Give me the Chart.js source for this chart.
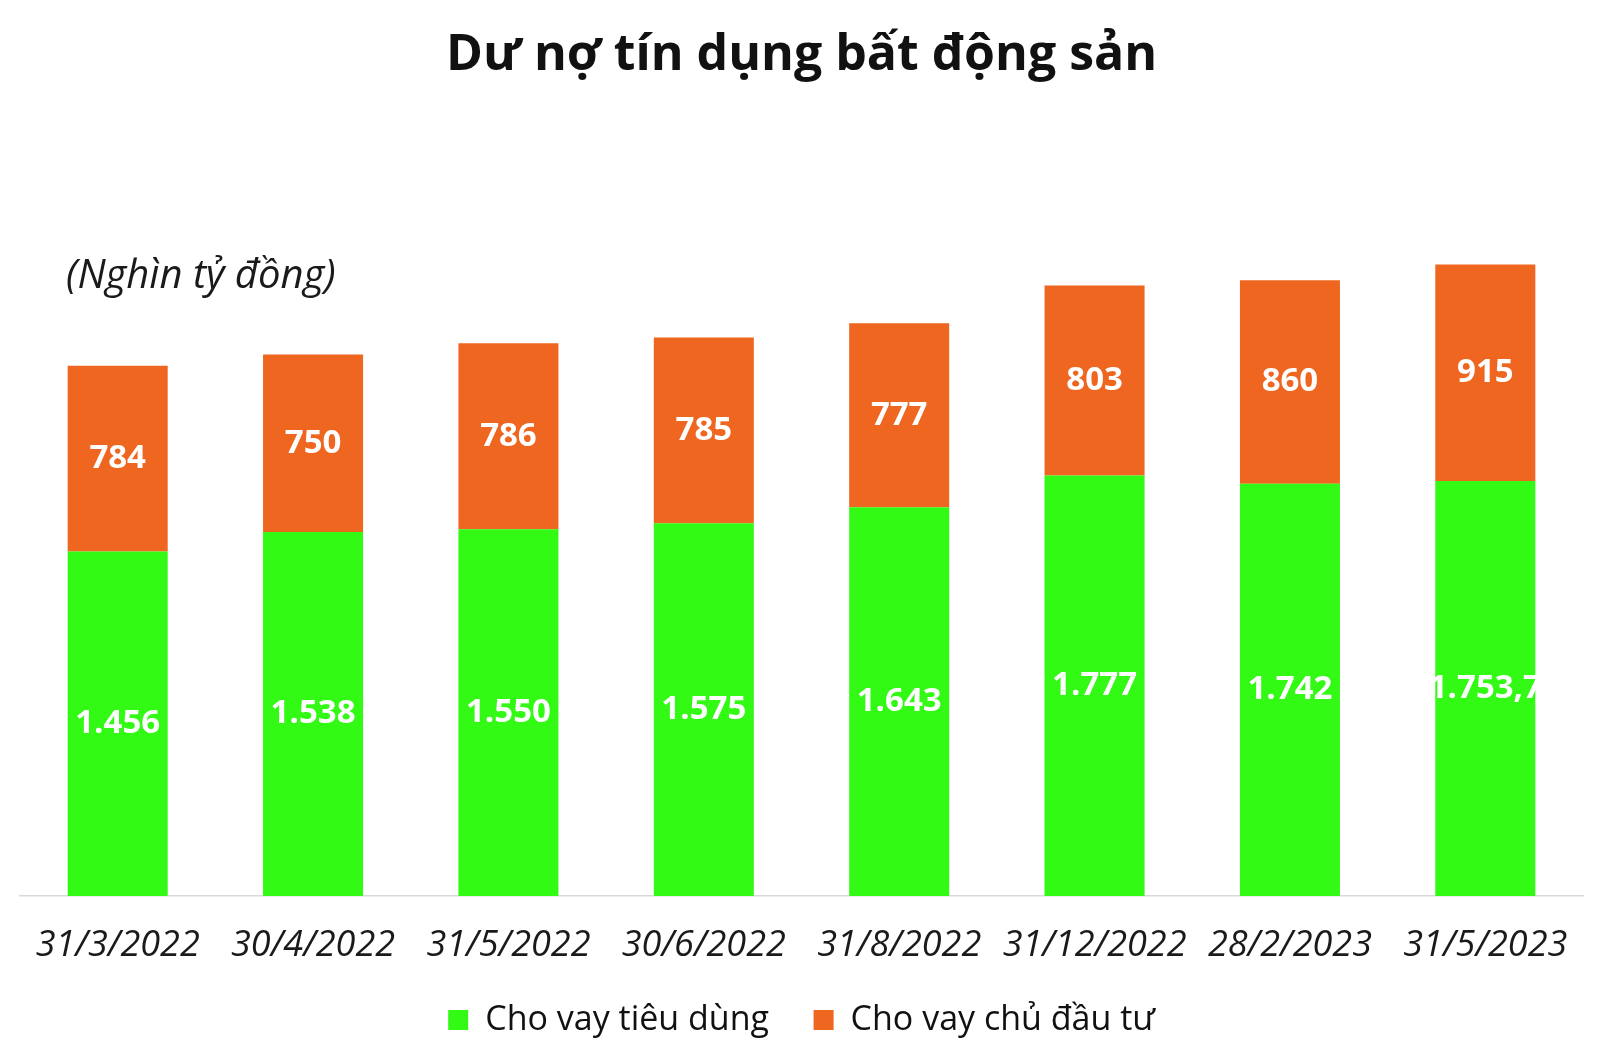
<!DOCTYPE html>
<html lang="vi">
<head>
<meta charset="utf-8">
<title>Dư nợ tín dụng bất động sản</title>
<script src="https://cdn.jsdelivr.net/npm/chart.js@4.4.1/dist/chart.umd.min.js"></script>
<style>
    html, body { margin: 0; padding: 0; background: #ffffff; }
    #wrap { width: 1600px; height: 1064px; position: relative; }
</style>
</head>
<body>
<div id="wrap"><canvas id="creditChart"></canvas></div>
<script>
const dates = ['31/3/2022', '30/4/2022', '31/5/2022', '30/6/2022', '31/8/2022', '31/12/2022', '28/2/2023', '31/5/2023'];
const consumerLoans = [1456, 1538, 1550, 1575, 1643, 1777, 1742, 1753.7];
const developerLoans = [784, 750, 786, 785, 777, 803, 860, 915];
const seriesNames = ['Cho vay tiêu dùng', 'Cho vay chủ đầu tư'];
const unitText = '(Nghìn tỷ đồng)';

// 1753.7 -> "1.753,7"
function fmtVN(v) {
    const parts = String(v).split('.');
    const intPart = parts[0].replace(/\B(?=(\d{3})+(?!\d))/g, '.');
    return parts[1] ? intPart + ',' + parts[1] : intPart;
}

const segmentLabels = {
    id: 'segmentLabels',
    afterDatasetsDraw(chart) {
        const ctx = chart.ctx;
        ctx.save();
        ctx.font = 'bold 33px "Open Sans"';
        ctx.fillStyle = '#ffffff';
        ctx.textAlign = 'center';
        ctx.textBaseline = 'middle';
        chart.data.datasets.forEach((ds, i) => {
            chart.getDatasetMeta(i).data.forEach((bar, j) => {
                ctx.fillText(fmtVN(ds.data[j]), bar.x, (bar.y + bar.base) / 2);
            });
        });
        ctx.restore();
    }
};

const unitLabel = {
    id: 'unitLabel',
    afterDraw(chart) {
        const ctx = chart.ctx;
        ctx.save();
        ctx.font = 'italic 40px "Open Sans"';
        ctx.fillStyle = '#1a1a1a';
        ctx.textAlign = 'left';
        ctx.textBaseline = 'middle';
        ctx.fillText(unitText, chart.chartArea.left + 46, chart.chartArea.top + 91);
        ctx.restore();
    }
};

const ctx = document.getElementById('creditChart').getContext('2d');
new Chart(ctx, {
    type: 'bar',
    data: {
        labels: dates,
        datasets: [
            {
                label: seriesNames[0],
                data: consumerLoans,
                backgroundColor: '#32fa14'
            },
            {
                label: seriesNames[1],
                data: developerLoans,
                backgroundColor: '#ee661f'
            }
        ]
    },
    options: {
        responsive: true,
        maintainAspectRatio: false,
        animation: false,
        barPercentage: 1,
        categoryPercentage: 0.512,
        layout: {
            padding: { left: 20, right: 17, top: 0, bottom: 17 }
        },
        scales: {
            x: {
                stacked: true,
                grid: { display: false, drawTicks: false },
                border: { display: true, color: '#d9d9d9', width: 1.5 },
                ticks: {
                    color: '#1a1a1a',
                    padding: 28,
                    font: { family: 'Open Sans', size: 36, style: 'italic' }
                },
                afterFit(scale) {
                    scale.height = 85;
                }
            },
            y: {
                stacked: true,
                display: false,
                min: 0,
                max: 3000
            }
        },
        plugins: {
            title: {
                display: true,
                text: 'Dư nợ tín dụng bất động sản',
                color: '#111111',
                font: { family: 'Open Sans', size: 50, weight: 'bold' },
                padding: { top: 26, bottom: 100 }
            },
            legend: {
                position: 'bottom',
                labels: {
                    color: '#111111',
                    boxWidth: 20,
                    boxHeight: 20,
                    padding: 22,
                    font: { family: 'Open Sans', size: 34 },
                    generateLabels(chart) {
                        const items = Chart.defaults.plugins.legend.labels.generateLabels(chart);
                        // wider gap after the first entry, as in the source
                        items[0].text += '\u2002\u2009';
                        return items;
                    }
                }
            },
            tooltip: { enabled: false }
        }
    },
    plugins: [segmentLabels, unitLabel]
});
</script>
</body>
</html>
